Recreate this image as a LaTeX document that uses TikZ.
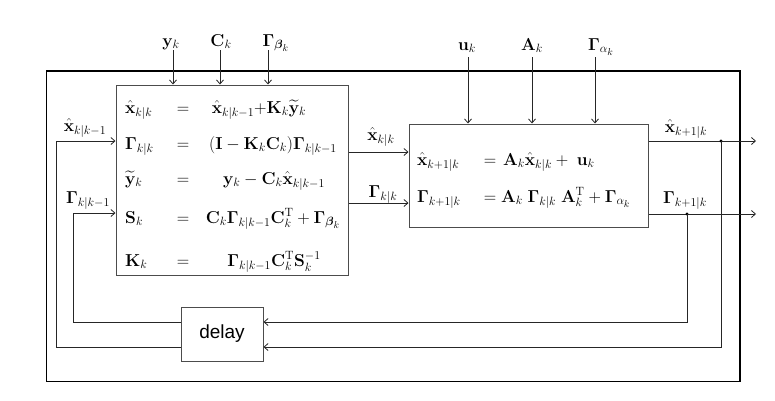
\documentclass[tikz,border=0pt]{standalone}
\usepackage{amsmath,amssymb}
\usepackage[no-math]{fontspec}
\newfontfamily\arialfont{Liberation Sans}
\usetikzlibrary{arrows.meta}
\begin{document}
\begin{tikzpicture}[x=1pt,y=-1pt,
  font=\fontsize{17.28}{20}\selectfont,
  conn/.style={line width=0.8pt, draw=black!85},
  arr/.style={conn,-{Straight Barb[length=4pt,width=7pt,line width=0.8pt]}},
  eq/.style={inner sep=0pt, anchor=base},
  eqw/.style={inner sep=0pt, anchor=base west},
  box/.style={draw=black!70, line width=1pt, inner sep=0pt},
  dot/.style={circle, fill=black, inner sep=0pt, minimum size=3.4pt}]
\useasboundingbox (0,0) rectangle (775,400);
% frames
\node[draw=black, line width=1.6pt, inner sep=0pt, minimum width=693.5pt, minimum height=310.5pt] (outer) at (393.25,226.25) {};
\node[box, minimum width=232pt, minimum height=190pt] (b1) at (232,180) {};
\node[box, minimum width=239pt, minimum height=103pt] (b2) at (528.5,175.5) {};
\node[box, minimum width=82pt, minimum height=54pt, font=\arialfont\fontsize{19}{22}\selectfont] (dl) at (222,334) {delay};
% top inputs box 1
\node[eq] (ly) at (171,46) {$\mathbf{y}_k$};
\node[eq] (lc) at (221,46) {$\mathbf{C}_k$};
\node[eq] (lb) at (276,46) {$\mathbf{\Gamma}_{\boldsymbol{\beta}_k}$};
\coordinate (sy) at (173,50);
\coordinate (sc) at (220,50);
\coordinate (sb) at (268,50);
\draw[arr] (sy) -- (sy |- b1.north);
\draw[arr] (sc) -- (sc |- b1.north);
\draw[arr] (sb) -- (sb |- b1.north);
% top inputs box 2
\node[eq] (lu) at (467,50) {$\mathbf{u}_k$};
\node[eq] (la) at (532,50) {$\mathbf{A}_k$};
\node[eq] (lg) at (601,50) {$\mathbf{\Gamma}_{\alpha_k}$};
\coordinate (su) at (468,57);
\coordinate (sa) at (532,57);
\coordinate (sg) at (595,57);
\draw[arr] (su) -- (su |- b2.north);
\draw[arr] (sa) -- (sa |- b2.north);
\draw[arr] (sg) -- (sg |- b2.north);
% box 1 equations
\node[eqw] (e1l) at (125,113) {$\hat{\mathbf{x}}_{k|k}$};
\node[eq]  (e1e) at (183,113) {$=$};
\node[eq]  (e1r) at (259,113) {$\hat{\mathbf{x}}_{k|k-1}{+}\mathbf{K}_k\widetilde{\mathbf{y}}_k$};
\node[eqw] (e2l) at (125,149) {$\mathbf{\Gamma}_{k|k}$};
\node[eq]  (e2e) at (183,149) {$=$};
\node[eq]  (e2r) at (273,149) {$(\mathbf{I}-\mathbf{K}_k\mathbf{C}_k)\mathbf{\Gamma}_{k|k-1}$};
\node[eqw] (e3l) at (125,184) {$\widetilde{\mathbf{y}}_k$};
\node[eq]  (e3e) at (183,184) {$=$};
\node[eq]  (e3r) at (274,184) {$\mathbf{y}_k-\mathbf{C}_k\hat{\mathbf{x}}_{k|k-1}$};
\node[eqw] (e4l) at (125,223) {$\mathbf{S}_k$};
\node[eq]  (e4e) at (183,223) {$=$};
\node[eq]  (e4r) at (273,223) {$\mathbf{C}_k\mathbf{\Gamma}_{k|k-1}\mathbf{C}_k^{\mathrm{T}}+\mathbf{\Gamma}_{\boldsymbol{\beta}_k}$};
\node[eqw] (e5l) at (125,266) {$\mathbf{K}_k$};
\node[eq]  (e5e) at (183,266) {$=$};
\node[eq]  (e5r) at (274,266) {$\mathbf{\Gamma}_{k|k-1}\mathbf{C}_k^{\mathrm{T}}\mathbf{S}_k^{-1}$};
% box 2 equations
\node[eqw] (f1l) at (417,165) {$\hat{\mathbf{x}}_{k+1|k}$};
\node[eq]  (f1e) at (490,165) {$=$};
\node[eqw] (f1r) at (503,165) {$\mathbf{A}_k\hat{\mathbf{x}}_{k|k}+\;\mathbf{u}_k$};
\node[eqw] (f2l) at (417,202) {$\mathbf{\Gamma}_{k+1|k}$};
\node[eq]  (f2e) at (490,202) {$=$};
\node[eqw] (f2r) at (501,202) {$\mathbf{A}_k\;\mathbf{\Gamma}_{k|k}\;\mathbf{A}_k^{\mathrm{T}}+\mathbf{\Gamma}_{\alpha_k}$};
% box1 -> box2
\coordinate (m1) at (378,152);
\coordinate (m2) at (378,203);
\draw[arr] (b1.east |- m1) -- (b2.west |- m1);
\draw[arr] (b1.east |- m2) -- (b2.west |- m2);
\node[eq] (lm1) at (381,140) {$\hat{\mathbf{x}}_{k|k}$};
\node[eq] (lm2) at (383,197) {$\mathbf{\Gamma}_{k|k}$};
% outputs
\coordinate (o1) at (756,141);
\coordinate (o2) at (756,214);
\draw[arr] (b2.east |- o1) -- (o1);
\draw[arr] (b2.east |- o2) -- (o2);
\node[eq] (lo1) at (686,132) {$\hat{\mathbf{x}}_{k+1|k}$};
\node[eq] (lo2) at (685,203) {$\mathbf{\Gamma}_{k+1|k}$};
\node[dot] (d1) at (721,141) {};
\node[dot] (d2) at (687,214) {};
% feedback
\coordinate (r1) at (721,347);
\coordinate (r2) at (687,322);
\draw[arr] (d1.center) -- (r1) -- (dl.east |- r1);
\draw[arr] (d2.center) -- (r2) -- (dl.east |- r2);
\coordinate (l1) at (56,141);
\coordinate (l2) at (73,213);
\draw[arr] (dl.west |- r1) -| (l1) -- (b1.west |- l1);
\draw[arr] (dl.west |- r2) -| (l2) -- (b1.west |- l2);
\node[eq] (ll1) at (85,131) {$\hat{\mathbf{x}}_{k|k-1}$};
\node[eq] (ll2) at (88,203) {$\mathbf{\Gamma}_{k|k-1}$};
\end{tikzpicture}
\end{document}
